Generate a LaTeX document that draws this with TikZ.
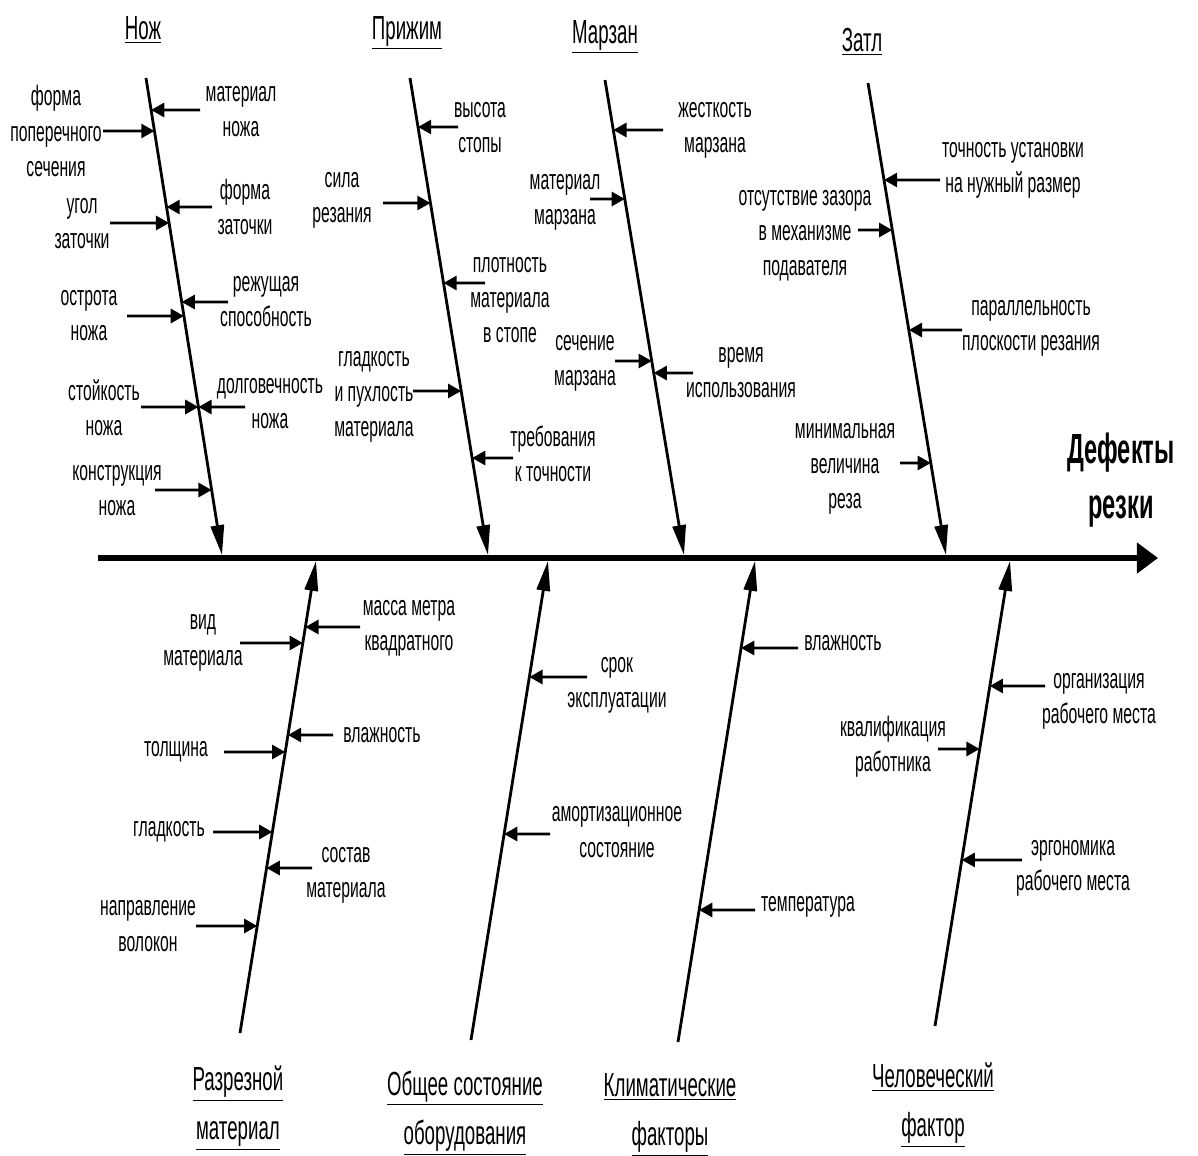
\documentclass[tikz,border=0pt]{standalone}
\usepackage{fontspec}
\setmainfont{Liberation Sans}[FakeStretch=0.56]
\usetikzlibrary{arrows.meta}
\tikzset{
  spine/.style  = {line width=3.4pt, -{Triangle[length=12pt, width=17pt]}},
  bone/.style   = {line width=1.6pt, -{Triangle[length=17pt, width=7.5pt]}},
  cause/.style  = {line width=1.6pt, -{Triangle[length=7.5pt, width=8pt]}},
  lbl/.style    = {font=\fontsize{16}{20}\selectfont, align=center, inner sep=0pt},
  head/.style   = {font=\fontsize{19}{28}\selectfont, align=center, inner sep=0pt},
  effect/.style = {font=\fontsize{24}{31}\selectfont\bfseries, align=center, inner sep=0pt}
}

\begin{document}
\begin{tikzpicture}[x=0.02cm, y=-0.02cm]
  \useasboundingbox (0,0) rectangle (1198,1156);

  % spine and effect
  \coordinate (spineL) at (98,558);
  \coordinate (spineR) at (1158,558);
  \draw[spine] (spineL) -- (spineR);
  \node[effect] (effect) at (1121,480) {Дефекты\\резки};

  % upper bones
  \coordinate (nozhT)  at (146,78);  \coordinate (nozhB)  at (222,555);
  \coordinate (prizhT) at (410,78);  \coordinate (prizhB) at (488,555);
  \coordinate (marzT)  at (605,80);  \coordinate (marzB)  at (684,555);
  \coordinate (zatlT)  at (868,83);  \coordinate (zatlB)  at (946,555);
  \draw[bone] (nozhT) -- (nozhB);
  \draw[bone] (prizhT) -- (prizhB);
  \draw[bone] (marzT) -- (marzB);
  \draw[bone] (zatlT) -- (zatlB);

  \node[head] (nozh)  at (143,30) {\underline{Нож}};
  \node[head] (prizh) at (407,33) {\underline{Прижим}};
  \node[head] (marz)  at (605,37) {\underline{Марзан}};
  \node[head] (zatl)  at (862,42) {\underline{Затл}};

  % lower bones
  \coordinate (razrB) at (240,1033); \coordinate (razrT) at (316,561);
  \coordinate (obshB) at (471,1040); \coordinate (obshT) at (548,561);
  \coordinate (klimB) at (678,1042); \coordinate (klimT) at (755,561);
  \coordinate (chelB) at (935,1026); \coordinate (chelT) at (1010,561);
  \draw[bone] (razrB) -- (razrT);
  \draw[bone] (obshB) -- (obshT);
  \draw[bone] (klimB) -- (klimT);
  \draw[bone] (chelB) -- (chelT);

  \node[head] (razr) at (238,1108) {\underline{Разрезной}\\\underline{материал}};
  \node[head] (obsh) at (465,1113) {\underline{Общее состояние}\\\underline{оборудования}};
  \node[head] (klim) at (670,1115) {\underline{Климатические}\\\underline{факторы}};
  \node[head] (chel) at (933,1105) {\underline{Человеческий}\\\underline{фактор}};

  % Нож
  \node[lbl] (formaL) at (56,131) {форма\\поперечного\\сечения};
  \coordinate (formaS) at (103,131);
  \draw[cause] (formaS) -- (intersection of nozhT--nozhB and formaS--spineR|-formaS);
  \node[lbl] (ugolL) at (82,224) {угол\\заточки};
  \coordinate (ugolS) at (110,223);
  \draw[cause] (ugolS) -- (intersection of nozhT--nozhB and ugolS--spineR|-ugolS);
  \node[lbl] (ostrL) at (89,316) {острота\\ножа};
  \coordinate (ostrS) at (127,316);
  \draw[cause] (ostrS) -- (intersection of nozhT--nozhB and ostrS--spineR|-ostrS);
  \node[lbl] (stoiL) at (104,408) {стойкость\\ножа};
  \coordinate (stoiS) at (141,407);
  \draw[cause] (stoiS) -- (intersection of nozhT--nozhB and stoiS--spineR|-stoiS);
  \node[lbl] (konsL) at (117,491) {конструкция\\ножа};
  \coordinate (konsS) at (155,490);
  \draw[cause] (konsS) -- (intersection of nozhT--nozhB and konsS--spineR|-konsS);
  \node[lbl] (matnL) at (241,112) {материал\\ножа};
  \coordinate (matnS) at (200,110);
  \draw[cause] (matnS) -- (intersection of nozhT--nozhB and matnS--spineR|-matnS);
  \node[lbl] (fzatL) at (245,207) {форма\\заточки};
  \coordinate (fzatS) at (212,207);
  \draw[cause] (fzatS) -- (intersection of nozhT--nozhB and fzatS--spineR|-fzatS);
  \node[lbl] (rezhL) at (266,302) {режущая\\способность};
  \coordinate (rezhS) at (228,302);
  \draw[cause] (rezhS) -- (intersection of nozhT--nozhB and rezhS--spineR|-rezhS);
  \node[lbl] (dolgL) at (270,404) {долговечность\\ножа};
  \coordinate (dolgS) at (245,407);
  \draw[cause] (dolgS) -- (intersection of nozhT--nozhB and dolgS--spineR|-dolgS);

  % Прижим
  \node[lbl] (vysL) at (480,128) {высота\\стопы};
  \coordinate (vysS) at (458,127);
  \draw[cause] (vysS) -- (intersection of prizhT--prizhB and vysS--spineR|-vysS);
  \node[lbl] (silaL) at (342,200) {сила\\резания};
  \coordinate (silaS) at (383,203);
  \draw[cause] (silaS) -- (intersection of prizhT--prizhB and silaS--spineR|-silaS);
  \node[lbl] (plotL) at (510,300) {плотность\\материала\\в стопе};
  \coordinate (plotS) at (485,283);
  \draw[cause] (plotS) -- (intersection of prizhT--prizhB and plotS--spineR|-plotS);
  \node[lbl] (puhlL) at (374,397) {гладкость\\и пухлость\\материала};
  \coordinate (puhlS) at (413,391);
  \draw[cause] (puhlS) -- (intersection of prizhT--prizhB and puhlS--spineR|-puhlS);
  \node[lbl] (trebL) at (553,454) {требования\\к точности};
  \coordinate (trebS) at (513,458);
  \draw[cause] (trebS) -- (intersection of prizhT--prizhB and trebS--spineR|-trebS);

  % Марзан
  \node[lbl] (zhestL) at (715,130) {жесткость\\марзана};
  \coordinate (zhestS) at (663,130);
  \draw[cause] (zhestS) -- (intersection of marzT--marzB and zhestS--spineR|-zhestS);
  \node[lbl] (matmL) at (565,202) {материал\\марзана};
  \coordinate (matmS) at (590,199);
  \draw[cause] (matmS) -- (intersection of marzT--marzB and matmS--spineR|-matmS);
  \node[lbl] (sechL) at (585,363) {сечение\\марзана};
  \coordinate (sechS) at (615,361);
  \draw[cause] (sechS) -- (intersection of marzT--marzB and sechS--spineR|-sechS);
  \node[lbl] (vremL) at (741,373) {время\\использования};
  \coordinate (vremS) at (693,373);
  \draw[cause] (vremS) -- (intersection of marzT--marzB and vremS--spineR|-vremS);

  % Затл
  \node[lbl] (tochL) at (1013,170) {точность установки\\на нужный размер};
  \coordinate (tochS) at (940,180);
  \draw[cause] (tochS) -- (intersection of zatlT--zatlB and tochS--spineR|-tochS);
  \node[lbl] (otsL) at (805,236) {отсутствие зазора\\в механизме\\подавателя};
  \coordinate (otsS) at (858,230);
  \draw[cause] (otsS) -- (intersection of zatlT--zatlB and otsS--spineR|-otsS);
  \node[lbl] (parL) at (1031,328) {параллельность\\плоскости резания};
  \coordinate (parS) at (962,330);
  \draw[cause] (parS) -- (intersection of zatlT--zatlB and parS--spineR|-parS);
  \node[lbl] (minL) at (845,469) {минимальная\\величина\\реза};
  \coordinate (minS) at (900,463);
  \draw[cause] (minS) -- (intersection of zatlT--zatlB and minS--spineR|-minS);

  % Разрезной материал
  \node[lbl] (vidL) at (203,643) {вид\\материала};
  \coordinate (vidS) at (240,643);
  \draw[cause] (vidS) -- (intersection of razrB--razrT and vidS--spineR|-vidS);
  \node[lbl] (massL) at (409,628) {масса метра\\квадратного};
  \coordinate (massS) at (360,627);
  \draw[cause] (massS) -- (intersection of razrB--razrT and massS--spineR|-massS);
  \node[lbl] (vlazhaL) at (382,735) {влажность};
  \coordinate (vlazhaS) at (333,735);
  \draw[cause] (vlazhaS) -- (intersection of razrB--razrT and vlazhaS--spineR|-vlazhaS);
  \node[lbl] (tolshL) at (176,752) {толщина};
  \coordinate (tolshS) at (224,752);
  \draw[cause] (tolshS) -- (intersection of razrB--razrT and tolshS--spineR|-tolshS);
  \node[lbl] (gladL) at (169,832) {гладкость};
  \coordinate (gladS) at (213,832);
  \draw[cause] (gladS) -- (intersection of razrB--razrT and gladS--spineR|-gladS);
  \node[lbl] (sostL) at (346,875) {состав\\материала};
  \coordinate (sostS) at (312,868);
  \draw[cause] (sostS) -- (intersection of razrB--razrT and sostS--spineR|-sostS);
  \node[lbl] (naprL) at (148,926) {направление\\волокон};
  \coordinate (naprS) at (196,926);
  \draw[cause] (naprS) -- (intersection of razrB--razrT and naprS--spineR|-naprS);

  % Общее состояние оборудования
  \node[lbl] (srokL) at (617,685) {срок\\эксплуатации};
  \coordinate (srokS) at (587,677);
  \draw[cause] (srokS) -- (intersection of obshB--obshT and srokS--spineR|-srokS);
  \node[lbl] (amorL) at (617,832) {амортизационное\\состояние};
  \coordinate (amorS) at (550,834);
  \draw[cause] (amorS) -- (intersection of obshB--obshT and amorS--spineR|-amorS);

  % Климатические факторы
  \node[lbl] (vlazhbL) at (843,643) {влажность};
  \coordinate (vlazhbS) at (798,648);
  \draw[cause] (vlazhbS) -- (intersection of klimB--klimT and vlazhbS--spineR|-vlazhbS);
  \node[lbl] (tempL) at (808,907) {температура};
  \coordinate (tempS) at (755,910);
  \draw[cause] (tempS) -- (intersection of klimB--klimT and tempS--spineR|-tempS);

  % Человеческий фактор
  \node[lbl] (orgL) at (1099,701) {организация\\рабочего места};
  \coordinate (orgS) at (1045,686);
  \draw[cause] (orgS) -- (intersection of chelB--chelT and orgS--spineR|-orgS);
  \node[lbl] (kvalL) at (893,747) {квалификация\\работника};
  \coordinate (kvalS) at (938,749);
  \draw[cause] (kvalS) -- (intersection of chelB--chelT and kvalS--spineR|-kvalS);
  \node[lbl] (ergoL) at (1073,868) {эргономика\\рабочего места};
  \coordinate (ergoS) at (1022,860);
  \draw[cause] (ergoS) -- (intersection of chelB--chelT and ergoS--spineR|-ergoS);
\end{tikzpicture}
\end{document}
